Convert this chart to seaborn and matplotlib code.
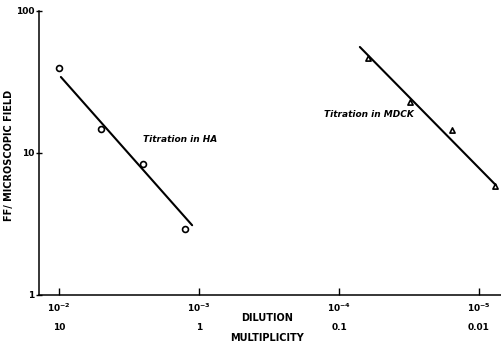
import numpy as np
import pandas as pd
import matplotlib
matplotlib.use("Agg")
import matplotlib.pyplot as plt
import seaborn as sns

# ---- data ----
ha_dilution = [1e-2, 5e-3, 2.5e-3, 1.25e-3]
ha_ff = [40, 14.8, 8.4, 2.9]
mdck_dilution = [6.25e-5, 3.1e-5, 1.55e-5, 7.7e-6]
mdck_ff = [47, 23, 14.5, 5.9]

# hand-drawn lines through each titration (endpoints)
ha_line_dilution = [9.7e-3, 1.12e-3]
ha_line_ff = [34.3, 3.1]
mdck_line_dilution = [7.1e-5, 7.6e-6]
mdck_line_ff = [55.8, 5.95]

x_ticks = [1e-2, 1e-3, 1e-4, 1e-5]
x_ticklabels = [r"$\mathbf{10^{-2}}$", r"$\mathbf{10^{-3}}$", r"$\mathbf{10^{-4}}$", r"$\mathbf{10^{-5}}$"]
multiplicity_labels = ["10", "1", "0.1", "0.01"]
y_ticks = [1, 10, 100]
y_ticklabels = ["1", "10", "100"]

sns.set_style("ticks")
plt.rcParams["font.family"] = ["DejaVu Sans"]
plt.rcParams["mathtext.fontset"] = "dejavusans"
plt.rcParams["text.color"] = "black"
plt.rcParams["xtick.color"] = "black"
plt.rcParams["ytick.color"] = "black"
plt.rcParams["axes.labelcolor"] = "black"

fig = plt.figure(figsize=(5.02, 3.5), dpi=100)
ax = fig.add_axes([39 / 502, 55 / 350, 463 / 502, 284 / 350])

ha_pts = pd.DataFrame({"dilution": ha_dilution, "ff": ha_ff})
mdck_pts = pd.DataFrame({"dilution": mdck_dilution, "ff": mdck_ff})
ha_line = pd.DataFrame({"dilution": ha_line_dilution, "ff": ha_line_ff})
mdck_line = pd.DataFrame({"dilution": mdck_line_dilution, "ff": mdck_line_ff})

sns.lineplot(data=ha_line, x="dilution", y="ff", color="black", linewidth=1.5, ax=ax)
sns.lineplot(data=mdck_line, x="dilution", y="ff", color="black", linewidth=1.5, ax=ax)
sns.scatterplot(data=ha_pts, x="dilution", y="ff", marker="o", s=18,
                facecolor="white", edgecolor="black", linewidth=1.2, ax=ax, zorder=3)
sns.scatterplot(data=mdck_pts, x="dilution", y="ff", marker="^", s=14,
                facecolor="white", edgecolor="black", linewidth=1.2, ax=ax, zorder=3)

ax.set_xscale("log")
ax.set_yscale("log")
ax.set_xlim(10 ** -1.857, 10 ** -5.164)
ax.set_ylim(1, 100)
ax.minorticks_off()

ax.set_xticks(x_ticks)
ax.set_xticklabels(x_ticklabels)
ax.set_yticks(y_ticks)
ax.set_yticklabels(y_ticklabels, fontweight="bold")
ax.tick_params(axis="x", direction="in", length=5, width=1, labelsize=6.5, pad=5)
ax.tick_params(axis="y", direction="inout", length=5, width=1, labelsize=6.5, pad=1)
ax.set_xlabel("")
ax.set_ylabel("")

for sp in ["top", "right"]:
    ax.spines[sp].set_visible(False)
for sp in ["left", "bottom"]:
    ax.spines[sp].set_linewidth(1.1)
    ax.spines[sp].set_color("black")

trans = matplotlib.transforms.blended_transform_factory(ax.transData, ax.transAxes)
for xv, lab in zip(x_ticks, multiplicity_labels):
    ax.text(xv, -0.113, lab, transform=trans, ha="center", va="center",
            fontsize=6.5, fontweight="bold")

fig.text(267 / 502, 1 - 318 / 350, "DILUTION", ha="center", va="center",
         fontsize=7, fontweight="bold")
fig.text(267 / 502, 1 - 338 / 350, "MULTIPLICITY", ha="center", va="center",
         fontsize=7, fontweight="bold")
fig.text(9 / 502, 1 - 155 / 350, "FF/ MICROSCOPIC FIELD", ha="center", va="center",
         rotation=90, fontsize=7, fontweight="bold")

ax.text(0.3045, 0.546, "Titration in HA", transform=ax.transAxes, ha="center",
        va="center", fontsize=6.5, fontweight="bold", style="italic")
ax.text(0.713, 0.634, "Titration in MDCK", transform=ax.transAxes, ha="center",
        va="center", fontsize=6.5, fontweight="bold", style="italic")

fig.savefig("out.png", dpi=100, facecolor="white")
